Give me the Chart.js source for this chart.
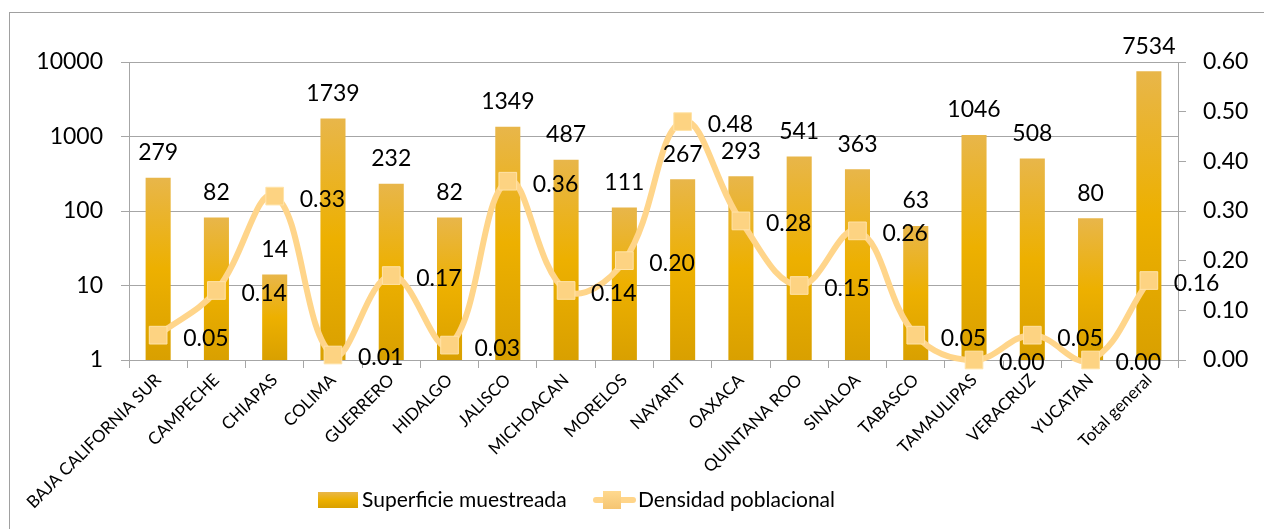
<!DOCTYPE html>
<html>
<head>
<meta charset="utf-8">
<script src="https://cdn.jsdelivr.net/npm/chart.js@4.4.0/dist/chart.umd.min.js"></script>
<style>
  html, body { margin: 0; padding: 0; background: #fff; }
  #wrap { width: 1264px; height: 529px; }
</style>
</head>
<body>
<div id="wrap"><canvas id="combo_chart" width="1264" height="529"></canvas></div>
<script>
const categories = ['BAJA CALIFORNIA SUR', 'CAMPECHE', 'CHIAPAS', 'COLIMA', 'GUERRERO', 'HIDALGO', 'JALISCO',
  'MICHOACAN', 'MORELOS', 'NAYARIT', 'OAXACA', 'QUINTANA ROO', 'SINALOA', 'TABASCO', 'TAMAULIPAS',
  'VERACRUZ', 'YUCATAN', 'Total general'];
const superficie = [279, 82, 14, 1739, 232, 82, 1349, 487, 111, 267, 293, 541, 363, 63, 1046, 508, 80, 7534];
const densidad = [0.05, 0.14, 0.33, 0.01, 0.17, 0.03, 0.36, 0.14, 0.20, 0.48, 0.28, 0.15, 0.26, 0.05, 0.00, 0.05, 0.00, 0.16];
const leftTicks = [1, 10, 100, 1000, 10000];
const rightTicks = [0, 0.1, 0.2, 0.3, 0.4, 0.5, 0.6];

const FONT = 'Lato';
const gridGray = '#a6a6a6';

function barGradient(ctx, top, bottom) {
  const g = ctx.createLinearGradient(0, top, 0, bottom);
  g.addColorStop(0, '#e8b64a');
  g.addColorStop(0.5, '#edb000');
  g.addColorStop(1, '#d9a000');
  return g;
}

// white background + outer frame
const framePlugin = {
  id: 'frame',
  beforeDraw(chart) {
    const ctx = chart.ctx;
    ctx.save();
    ctx.fillStyle = '#fff';
    ctx.fillRect(0, 0, chart.width, chart.height);
    ctx.strokeStyle = '#a0a0a0';
    ctx.lineWidth = 1;
    ctx.strokeRect(9.5, 12.5, chart.width + 10, chart.height + 10);
    ctx.restore();
  }
};

// value labels on bars and points
const labelPlugin = {
  id: 'valueLabels',
  afterDatasetsDraw(chart) {
    const ctx = chart.ctx;
    ctx.save();
    ctx.font = '23px ' + FONT;
    ctx.fillStyle = '#000';
    ctx.textBaseline = 'middle';
    ctx.textAlign = 'center';
    chart.getDatasetMeta(0).data.forEach((el, i) => {
      ctx.fillText(String(superficie[i]), el.x, el.y - 25);
    });
    ctx.textAlign = 'left';
    chart.getDatasetMeta(1).data.forEach((el, i) => {
      ctx.fillText(densidad[i].toFixed(2), el.x + 25, el.y + 3);
    });
    ctx.restore();
  }
};

// legend drawn at the bottom like the original
const legendPlugin = {
  id: 'bottomLegend',
  afterDraw(chart) {
    const ctx = chart.ctx;
    const ds = chart.data.datasets;
    ctx.save();
    ctx.font = '21px ' + FONT;
    ctx.textBaseline = 'middle';
    ctx.textAlign = 'left';
    // bar swatch
    ctx.fillStyle = barGradient(ctx, 492, 508);
    ctx.fillRect(318, 492, 40, 16);
    ctx.fillStyle = '#000';
    ctx.fillText(ds[0].label, 362, 500);
    // line swatch
    ctx.strokeStyle = '#ffd58a';
    ctx.lineWidth = 6;
    ctx.lineCap = 'round';
    ctx.beginPath();
    ctx.moveTo(596, 500);
    ctx.lineTo(633, 500);
    ctx.stroke();
    const mg = ctx.createLinearGradient(0, 491, 0, 509);
    mg.addColorStop(0, '#ffd98f');
    mg.addColorStop(1, '#f5c572');
    ctx.fillStyle = mg;
    ctx.fillRect(603, 491, 18, 18);
    ctx.fillStyle = '#000';
    ctx.fillText(ds[1].label, 638, 500);
    ctx.restore();
  }
};

const ctx = document.getElementById('combo_chart').getContext('2d');

const combo_chart = new Chart(ctx, {
  type: 'bar',
  data: {
    labels: categories,
    datasets: [{
      type: 'bar',
      label: 'Superficie muestreada',
      data: superficie,
      yAxisID: 'y',
      order: 1,
      barPercentage: 0.43,
      categoryPercentage: 1,
      backgroundColor: (c) => {
        const chart = c.chart;
        const area = chart.chartArea;
        if (!area || c.raw === undefined) return '#edb000';
        const top = chart.scales.y.getPixelForValue(c.raw);
        return barGradient(chart.ctx, top, area.bottom);
      },
      borderWidth: 0
    }, {
      type: 'line',
      label: 'Densidad poblacional',
      data: densidad,
      yAxisID: 'y1',
      order: 0,
      borderColor: '#ffd58a',
      borderWidth: 6,
      tension: 0.4,
      capBezierPoints: false,
      clip: false,
      pointStyle: 'rect',
      pointRadius: 12.5,
      pointBackgroundColor: '#fdd382',
      pointBorderColor: '#ffe3a8',
      pointBorderWidth: 1
    }]
  },
  options: {
    responsive: false,
    animation: false,
    layout: { padding: { top: 62, left: 0, right: 0, bottom: 0 } },
    plugins: {
      legend: { display: false },
      tooltip: { enabled: false }
    },
    scales: {
      x: {
        offset: true,
        grid: { offset: true, drawOnChartArea: false, drawTicks: true, tickLength: 8, color: gridGray },
        border: { color: gridGray },
        ticks: {
          font: { family: FONT, size: 17 },
          color: '#000',
          maxRotation: 45,
          minRotation: 45,
          autoSkip: false,
          padding: 2
        },
        afterFit(s) { s.height = 169; }
      },
      y: {
        type: 'logarithmic',
        position: 'left',
        min: 1,
        max: 10000,
        afterBuildTicks(s) { s.ticks = leftTicks.map(v => ({ value: v })); },
        ticks: {
          callback: (v) => String(v),
          font: { family: FONT, size: 23 },
          color: '#000',
          padding: 18
        },
        grid: { color: gridGray, tickLength: 8 },
        border: { color: gridGray },
        afterFit(s) { s.width = 129; }
      },
      y1: {
        position: 'right',
        min: 0,
        max: 0.6,
        afterBuildTicks(s) { s.ticks = rightTicks.map(v => ({ value: v })); },
        ticks: {
          callback: (v) => Number(v).toFixed(2),
          font: { family: FONT, size: 23 },
          color: '#000',
          padding: 17
        },
        grid: { drawOnChartArea: false, tickLength: 8, color: gridGray },
        border: { color: gridGray },
        afterFit(s) { s.width = 86; }
      }
    }
  },
  plugins: [framePlugin, labelPlugin, legendPlugin]
});
</script>
</body>
</html>
